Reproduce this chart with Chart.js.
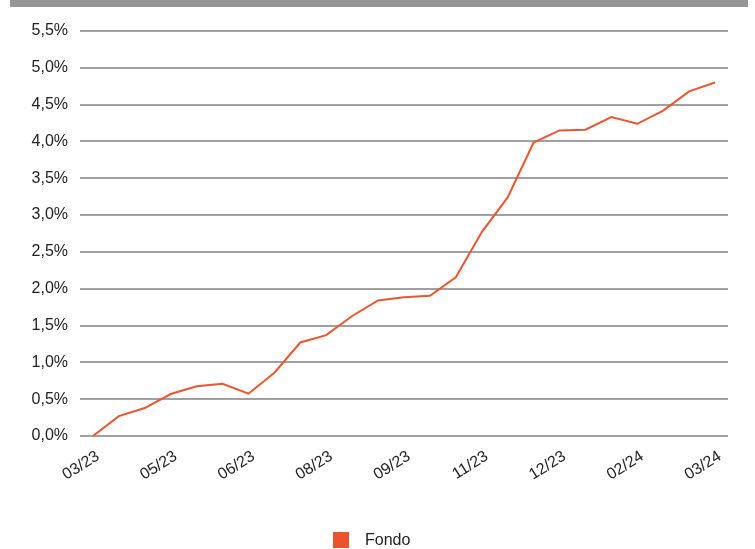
<!DOCTYPE html>
<html lang="es">
  <head>
    <meta charset="UTF-8" />
    <title>Fondo</title>
    <script src="https://cdn.jsdelivr.net/npm/chart.js"></script>
    <style>
      body { margin: 0; background: #fff; font-family: "Liberation Sans", Arial, sans-serif; }
      #topbar { position: absolute; left: 10px; top: 0; width: 738px; height: 7px; background: #959595; }
      #wrap { position: absolute; left: 0; top: 0; width: 755px; height: 549px; }
      #legend { position: absolute; left: 333px; top: 532px; height: 16px; display: flex; align-items: center; font-size: 16px; color: #222; }
      #legend .box { width: 16px; height: 16px; background: #ea532c; margin-right: 16px; }
    </style>
  </head>
  <body>
    <div id="topbar"></div>
    <div id="wrap"><canvas id="myChart"></canvas></div>
    <div id="legend"><span class="box"></span><span>Fondo</span></div>
    <script>
      // roughly two points per month, labels shown every 3rd point
      const dates = [
        "03/23", "04/23", "04/23", "05/23", "05/23", "06/23", "06/23",
        "07/23", "07/23", "08/23", "08/23", "09/23", "09/23", "10/23",
        "10/23", "11/23", "11/23", "12/23", "12/23", "01/24", "01/24",
        "02/24", "02/24", "03/24", "03/24",
      ];
      const fondo = [
        0, 0.27, 0.38, 0.57, 0.675, 0.71, 0.575, 0.86, 1.27, 1.37, 1.63,
        1.84, 1.885, 1.905, 2.155, 2.77, 3.24, 3.985, 4.15, 4.16, 4.33,
        4.24, 4.42, 4.68, 4.8,
      ];
      const lineColor = "#ec5530";

      const chart = new Chart("myChart", {
        type: "line",
        data: {
          labels: dates,
          datasets: [
            {
              label: "Fondo",
              data: fondo,
              borderColor: lineColor,
              borderWidth: 2,
              pointRadius: 0,
              tension: 0,
              fill: false,
            },
          ],
        },
        options: {
          responsive: true,
          maintainAspectRatio: false,
          animation: false,
          layout: { padding: { top: 31, right: 27, bottom: 0, left: 0 } },
          plugins: {
            legend: { display: false },
            tooltip: { enabled: false },
          },
          scales: {
            x: {
              offset: true,
              grid: { display: false, drawTicks: false },
              border: { display: false },
              ticks: {
                autoSkip: false,
                minRotation: 32,
                maxRotation: 32,
                padding: 11,
                labelOffset: 5,
                color: "#222",
                font: { family: "'Liberation Sans', Arial", size: 16 },
                callback: function (value, index) {
                  return index % 3 === 0 ? this.getLabelForValue(value) : "";
                },
              },
              afterFit: (scale) => { scale.height = 113; },
            },
            y: {
              min: 0,
              max: 5.5,
              grid: { color: "#a0a0a0", lineWidth: 2, drawTicks: false },
              border: { display: false },
              ticks: {
                stepSize: 0.5,
                padding: 12,
                color: "#222",
                font: { family: "'Liberation Sans', Arial", size: 16 },
                callback: (v) => v.toFixed(1).replace(".", ",") + "%",
              },
              afterFit: (scale) => { scale.width = 80; },
            },
          },
        },
      });
    </script>
  </body>
</html>
